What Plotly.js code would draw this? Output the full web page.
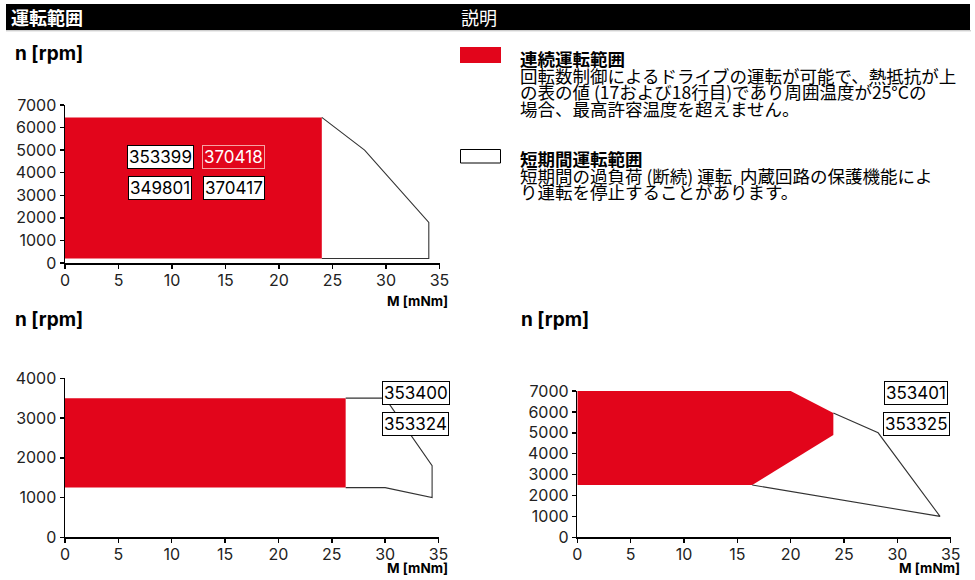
<!DOCTYPE html>
<html>
<head>
<meta charset="utf-8">
<script src="https://cdn.plot.ly/plotly-3.0.1.min.js"></script>
<style>
html,body{margin:0;padding:0;background:#fff;}
#chart{width:975px;height:580px;}
</style>
</head>
<body>
<div id="chart"></div>
<script>
// ---- data ----
// chart 1 (top): 353399 / 370418 / 349801 / 370417
var m1Cont = [0, 24, 24, 0];
var n1Cont = [200, 200, 6450, 6450];
var m1Short = [24, 28, 34, 34, 24];
var n1Short = [6450, 5000, 1800, 200, 200];
var labels1 = ['353399', '370418', '349801', '370417'];

// chart 2 (bottom left): 353400 / 353324
var m2Cont = [0, 26.3, 26.3, 0];
var n2Cont = [1250, 1250, 3500, 3500];
var m2Short = [26.3, 30, 34.4, 34.4, 30, 26.3];
var n2Short = [3500, 3500, 1800, 1000, 1250, 1250];
var labels2 = ['353400', '353324'];

// chart 3 (bottom right): 353401 / 353325
var m3Cont = [0, 20, 24, 24, 16.4, 0];
var n3Cont = [7000, 7000, 5950, 4900, 2500, 2500];
var m3Short = [24, 28.2, 34, 16.4];
var n3Short = [5950, 5000, 1000, 2500];
var labels3 = ['353401', '353325'];

var xTicks = [0, 5, 10, 15, 20, 25, 30, 35];
var yTicks7000 = [0, 1000, 2000, 3000, 4000, 5000, 6000, 7000];
var yTicks4000 = [0, 1000, 2000, 3000, 4000];

var headerLeft = '運転範囲';
var headerRight = '説明';
var yTitle = 'n [rpm]';
var xTitle = 'M [mNm]';
var legContTitle = '連続運転範囲';
var legContLines = ['回転数制御によるドライブの運転が可能で、熱抵抗が上',
                    'の表の値 (17および18行目)であり周囲温度が25°Cの',
                    '場合、最高許容温度を超えません。'];
var legShortTitle = '短期間運転範囲';
var legShortLines = ['短期間の過負荷 (断続) 運転  内蔵回路の保護機能によ',
                     'り運転を停止することがあります。'];

// ---- styles ----
var RED = '#e2051b';
var W = 975, H = 580;
function px(x){ return x / W; }
function py(y){ return 1 - y / H; }
var LAT = 'Inter, "Liberation Sans", Arial, sans-serif';
var CJK = '"Noto Sans CJK JP", sans-serif';

function contTrace(x, y, xa, ya){
  return {x: x, y: y, xaxis: xa, yaxis: ya, type: 'scatter', mode: 'lines',
          fill: 'toself', fillcolor: RED, line: {width: 0, color: RED},
          hoverinfo: 'skip', showlegend: false};
}
function shortTrace(x, y, xa, ya){
  return {x: x, y: y, xaxis: xa, yaxis: ya, type: 'scatter', mode: 'lines',
          line: {width: 1.1, color: '#333'}, hoverinfo: 'skip', showlegend: false};
}

var data = [
  contTrace(m1Cont, n1Cont, 'x', 'y'),
  shortTrace(m1Short, n1Short, 'x', 'y'),
  contTrace(m2Cont, n2Cont, 'x2', 'y2'),
  shortTrace(m2Short, n2Short, 'x2', 'y2'),
  contTrace(m3Cont, n3Cont, 'x3', 'y3'),
  shortTrace(m3Short, n3Short, 'x3', 'y3')
];

function xAxis(dom, anchor){
  return {domain: dom, anchor: anchor, range: [0, 35], tickvals: xTicks,
          showline: true, linecolor: '#000', linewidth: 1.5,
          ticks: 'outside', ticklen: 4, tickwidth: 1.5, tickcolor: '#000',
          ticklabelstandoff: -2,
          showgrid: false, zeroline: false, fixedrange: true,
          tickfont: {family: LAT, size: 16, color: '#222'}};
}
function yAxis(dom, anchor, maxV, vals){
  return {domain: dom, anchor: anchor, range: [0, maxV], tickvals: vals,
          showline: true, linecolor: '#000', linewidth: 1.5,
          ticks: 'outside', ticklen: 4, tickwidth: 1.5, tickcolor: '#000',
          showgrid: false, zeroline: false, fixedrange: true,
          tickfont: {family: LAT, size: 16, color: '#222'}};
}

function box(text, x, y, xr, yr, red){
  return {text: text, x: x, y: y, xref: xr, yref: yr, showarrow: false,
          xanchor: 'center', yanchor: 'middle',
          font: {family: LAT, size: 17, color: red ? '#fff' : '#000'},
          bgcolor: red ? RED : '#fff',
          bordercolor: red ? '#f5a3a3' : '#000', borderwidth: 1, borderpad: 1};
}
function ptext(text, x, y, opts){
  var a = {text: text, x: px(x), y: py(y), xref: 'paper', yref: 'paper',
           showarrow: false, xanchor: 'left', yanchor: 'middle',
           font: {family: CJK, size: 17.5, color: '#000'}};
  for (var k in opts) a[k] = opts[k];
  return a;
}

var annotations = [
  box(labels1[0], 8.9, 4711, 'x', 'y', false),
  box(labels1[1], 15.77, 4711, 'x', 'y', true),
  box(labels1[2], 8.9, 3311, 'x', 'y', false),
  box(labels1[3], 15.77, 3311, 'x', 'y', false),
  box(labels2[0], 32.85, 3630, 'x2', 'y2', false),
  box(labels2[1], 32.85, 2850, 'x2', 'y2', false),
  box(labels3[0], 31.78, 6920, 'x3', 'y3', false),
  box(labels3[1], 31.78, 5420, 'x3', 'y3', false),
  ptext('<b>' + headerLeft + '</b>', 9, 17, {font: {family: CJK, size: 18, color: '#fff'}}),
  ptext(headerRight, 459, 17, {font: {family: CJK, size: 18, color: '#fff'}}),
  ptext('<b>' + yTitle + '</b>', 13, 54, {font: {family: LAT, size: 19, color: '#000'}}),
  ptext('<b>' + yTitle + '</b>', 13, 319, {font: {family: LAT, size: 19, color: '#000'}}),
  ptext('<b>' + yTitle + '</b>', 519, 319, {font: {family: LAT, size: 19, color: '#000'}}),
  ptext('<b>' + xTitle + '</b>', 450, 300.5, {xanchor: 'right', font: {family: LAT, size: 13.5, color: '#000'}}),
  ptext('<b>' + xTitle + '</b>', 450, 568, {xanchor: 'right', font: {family: LAT, size: 13.5, color: '#000'}}),
  ptext('<b>' + xTitle + '</b>', 962, 568, {xanchor: 'right', font: {family: LAT, size: 13.5, color: '#000'}}),
  ptext('<b>' + legContTitle + '</b>', 518, 58.5),
  ptext('<b>' + legShortTitle + '</b>', 518, 158.5)
];
legContLines.forEach(function(t, i){ annotations.push(ptext(t, 518, 75.5 + i * 16.5)); });
legShortLines.forEach(function(t, i){ annotations.push(ptext(t, 518, 175 + i * 16.5)); });

var shapes = [
  {type: 'rect', xref: 'paper', yref: 'paper', x0: px(6), x1: px(970), y0: py(30), y1: py(4),
   fillcolor: '#000', line: {width: 0}, layer: 'below'},
  {type: 'line', xref: 'paper', yref: 'paper', x0: px(6), x1: px(971), y0: py(30.8), y1: py(30.8),
   line: {color: '#bbb', width: 1}},
  {type: 'rect', xref: 'paper', yref: 'paper', x0: px(460), x1: px(501), y0: py(63), y1: py(47),
   fillcolor: RED, line: {width: 0}},
  {type: 'rect', xref: 'paper', yref: 'paper', x0: px(460.5), x1: px(500.5), y0: py(163), y1: py(149.5),
   fillcolor: '#fff', line: {width: 1, color: '#000'}}
];

var layout = {
  width: W, height: H,
  margin: {l: 0, r: 0, t: 0, b: 0},
  paper_bgcolor: '#fff', plot_bgcolor: 'rgba(0,0,0,0)',
  showlegend: false,
  xaxis: xAxis([px(65), px(439.5)], 'y'),
  yaxis: yAxis([py(263), py(105)], 'x', 7000, yTicks7000),
  xaxis2: xAxis([px(65), px(438.5)], 'y2'),
  yaxis2: yAxis([py(537.3), py(378.3)], 'x2', 4000, yTicks4000),
  xaxis3: xAxis([px(577.3), px(950.7)], 'y3'),
  yaxis3: yAxis([py(537.3), py(391)], 'x3', 7000, yTicks7000),
  annotations: annotations,
  shapes: shapes
};

Plotly.newPlot('chart', data, layout, {displayModeBar: false, staticPlot: true});
</script>
</body>
</html>
